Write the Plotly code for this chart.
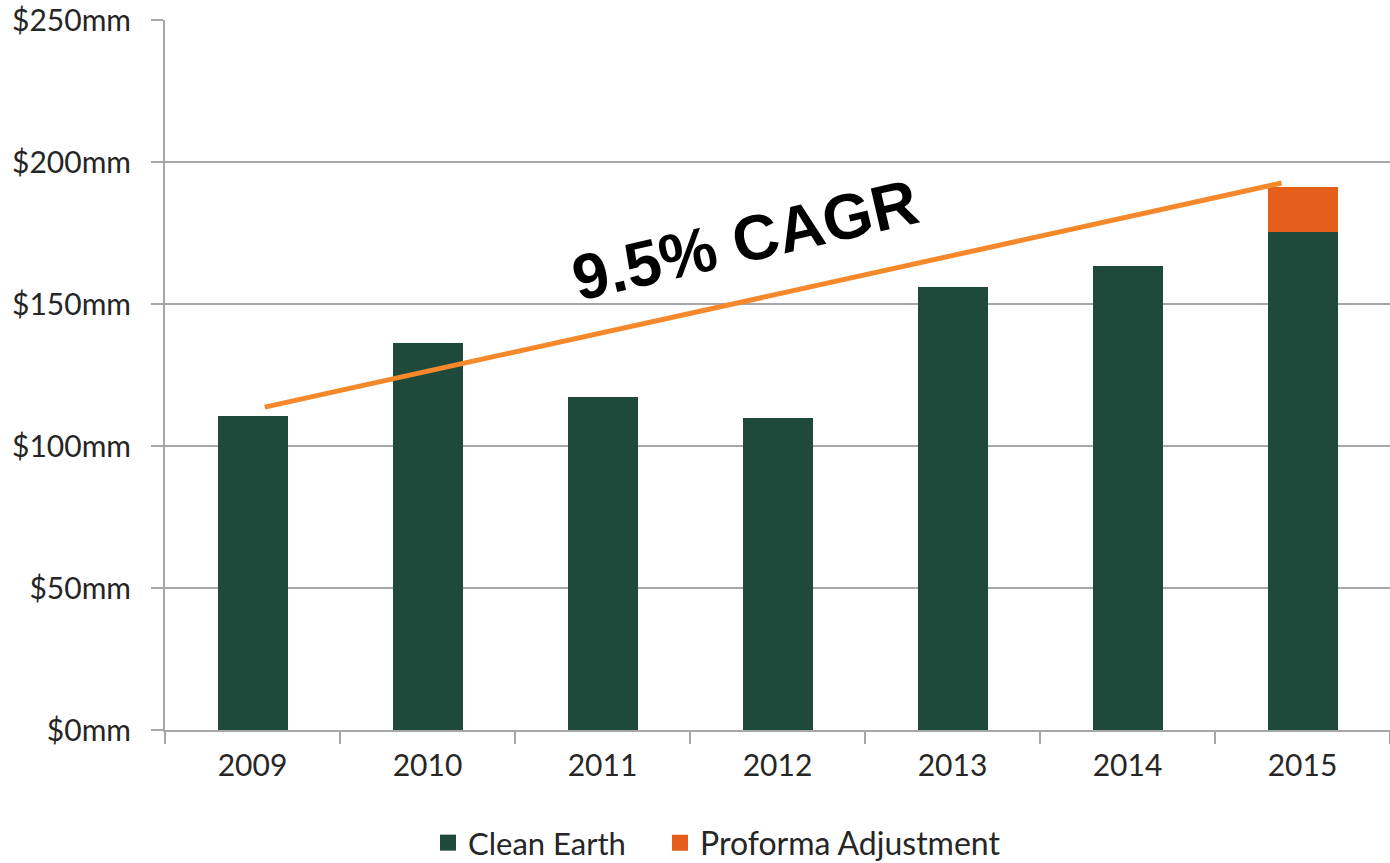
import plotly.graph_objects as go

years = ["2009", "2010", "2011", "2012", "2013", "2014", "2015"]
clean_earth = [110.5, 136.3, 117.3, 109.9, 156.0, 163.4, 175.4]
proforma_adj = [0, 0, 0, 0, 0, 0, 15.8]
y_ticks = [0, 50, 100, 150, 200, 250]
y_tick_text = ["$0mm", "$50mm", "$100mm", "$150mm", "$200mm", "$250mm"]
cagr_x = [0.07, 5.88]
cagr_y = [113.7, 192.6]
cagr_label = "9.5% CAGR"

GREEN = "#1F4A3B"
ORANGE = "#E65F1A"
LINE_ORANGE = "#F5882A"
GRID = "#A6A6A6"
TXT = "#262626"
FONT = "Lato"

W, H = 1390, 863

fig = go.Figure()
fig.add_trace(go.Bar(x=years, y=clean_earth, name="Clean Earth", showlegend=False,
                     marker=dict(color=GREEN, line=dict(width=0)), width=0.4))
fig.add_trace(go.Bar(x=years, y=proforma_adj, name="Proforma Adjustment", showlegend=False,
                     marker=dict(color=ORANGE, line=dict(width=0)), width=0.4))
# legend swatches
fig.add_trace(go.Scatter(x=[None], y=[None], mode="markers", name="Clean Earth",
                         legend="legend",
                         marker=dict(symbol="square", size=16, color=GREEN)))
fig.add_trace(go.Scatter(x=[None], y=[None], mode="markers", name="Proforma Adjustment",
                         legend="legend2",
                         marker=dict(symbol="square", size=16, color=ORANGE)))
fig.add_trace(go.Scatter(x=cagr_x, y=cagr_y, mode="lines", xaxis="x2",
                         line=dict(color=LINE_ORANGE, width=5), showlegend=False,
                         hoverinfo="skip"))

fig.add_annotation(x=2.814, y=172.5, xref="x2", yref="y", text=cagr_label,
                   showarrow=False, textangle=-13,
                   font=dict(family="Liberation Sans", size=64, color="black", weight="bold"))

legend_common = dict(orientation="h", xref="container", xanchor="left",
                     yref="container", y=(863 - 843) / 863, yanchor="middle",
                     itemsizing="trace", bgcolor="rgba(0,0,0,0)")

fig.update_layout(
    width=W, height=H,
    barmode="stack",
    margin=dict(l=165, r=0, t=20, b=133, autoexpand=False),
    plot_bgcolor="white", paper_bgcolor="white",
    font=dict(family=FONT, color=TXT, size=30),
    xaxis=dict(type="category", range=[-0.5, 6.5], showgrid=False, automargin=False,
               showline=True, linecolor=GRID, linewidth=2,
               ticks="outside", tickson="boundaries", ticklen=12, tickcolor=GRID,
               tickwidth=1.5, ticklabelstandoff=8, ticklabeloverflow="allow",
               tickfont=dict(size=30, color=TXT, family=FONT)),
    xaxis2=dict(overlaying="x", range=[-0.5, 6.5], visible=False),
    yaxis=dict(range=[0, 250], tickvals=y_ticks, ticktext=y_tick_text, automargin=False,
               showgrid=True, gridcolor=GRID, gridwidth=1.5,
               showline=True, linecolor=GRID, linewidth=2,
               ticks="outside", ticklen=12, tickcolor=GRID, tickwidth=1.5,
               ticklabelstandoff=14, ticklabeloverflow="allow",
               zeroline=False, tickfont=dict(size=30, color=TXT, family=FONT)),
    legend=dict(x=428 / 1390, font=dict(size=31, color=TXT, family=FONT), **legend_common),
    legend2=dict(x=660 / 1390, font=dict(size=32, color=TXT, family=FONT), **legend_common),
    showlegend=True,
)

fig.write_html("out.html", config={"displayModeBar": False},
               post_script="document.body.style.margin='0';document.body.style.overflow='hidden';")
